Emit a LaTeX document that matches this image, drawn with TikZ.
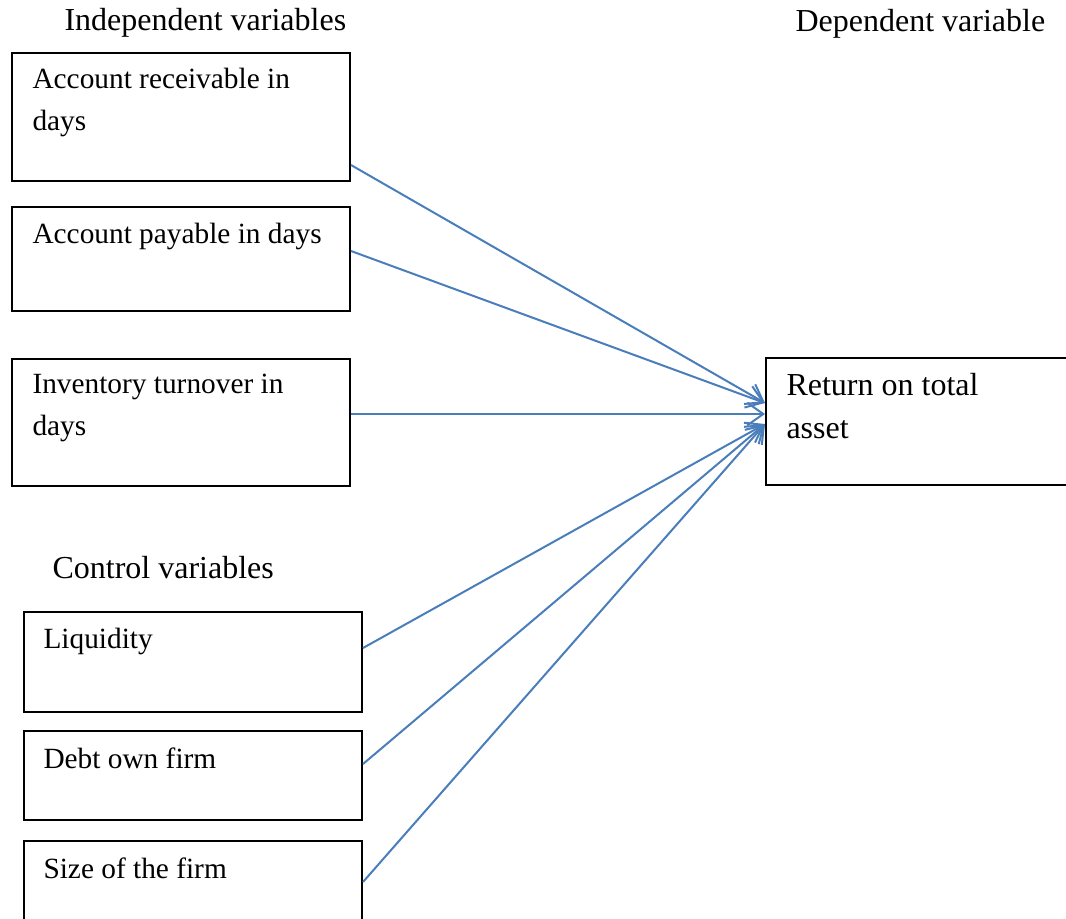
\documentclass[tikz,border=0pt]{standalone}
\usepackage{fontspec}
\setmainfont{Liberation Serif}
\usetikzlibrary{arrows.meta,calc}
\definecolor{arrblue}{HTML}{4A7EBB}
\tikzset{
  box/.style={draw=black, line width=0.75pt, rectangle, inner sep=0pt, anchor=north west},
  lbox/.style={box, minimum width=126.75pt},
  boxtext/.style={anchor=base west, inner sep=0pt, align=left, font=\fontsize{11}{15.4}\selectfont},
  rettext/.style={anchor=base west, inner sep=0pt, align=left, font=\fontsize{12}{16}\selectfont},
  heading/.style={anchor=base west, inner sep=0pt, font=\fontsize{12}{14}\selectfont},
  arr/.style={draw=arrblue, line width=0.75pt, -{Straight Barb[length=6pt,width=8.5pt,line width=0.75pt]}}
}
\begin{document}
\begin{tikzpicture}[x=0.375pt, y=-0.375pt]
\useasboundingbox (0,0) rectangle (1066,919);
\clip (0,0) rectangle (1066,919);
% headings
\node[heading] (hind) at (64,30) {Independent variables};
\node[heading] (hdep) at (795,31) {Dependent variable};
\node[heading] (hctl) at (52,578) {Control variables};
% independent boxes
\node[lbox, minimum height=48pt] (b1) at (11,52) {};
\node[lbox, minimum height=39pt] (b2) at (11,206) {};
\node[lbox, minimum height=47.6pt] (b3) at (11,358) {};
% control boxes
\node[lbox, minimum height=37.5pt] (b4) at (23,611) {};
\node[lbox, minimum height=33.4pt] (b5) at (23,730) {};
\node[lbox, minimum height=40pt] (b6) at (23,840) {};
% dependent box
\node[box, minimum width=118pt, minimum height=47.6pt] (ret) at (765,357) {};
% texts (base anchor = baseline of last line)
\node[boxtext] (t1) at ($(b1.north west)+(21,78)$) {Account receivable in\\days};
\node[boxtext] (t2) at ($(b2.north west)+(21,37)$) {Account payable in days};
\node[boxtext] (t3) at ($(b3.north west)+(21,77)$) {Inventory turnover in\\days};
\node[boxtext] (t4) at ($(b4.north west)+(20,37)$) {Liquidity};
\node[boxtext] (t5) at ($(b5.north west)+(20,38)$) {Debt own firm};
\node[boxtext] (t6) at ($(b6.north west)+(20,38)$) {Size of the firm};
\node[rettext] (tr) at ($(ret.north west)+(21,81)$) {Return on total\\asset};
% targets
\coordinate (p1) at ($(ret.north west)+(0,46)$);
\coordinate (p2) at ($(ret.north west)+(0,57)$);
\coordinate (p3) at ($(ret.north west)+(0,67)$);
% connectors
\draw[arr] ($(b1.north east)+(0,113)$) -- (p1);
\draw[arr] ($(b2.north east)+(0,45)$) -- (p1);
\draw[arr] ($(b3.north east)+(0,56)$) -- (p2);
\draw[arr] ($(b4.north east)+(0,37)$) -- (p3);
\draw[arr] ($(b5.north east)+(0,34)$) -- (p3);
\draw[arr] ($(b6.north east)+(0,42)$) -- (p3);
\end{tikzpicture}
\end{document}
